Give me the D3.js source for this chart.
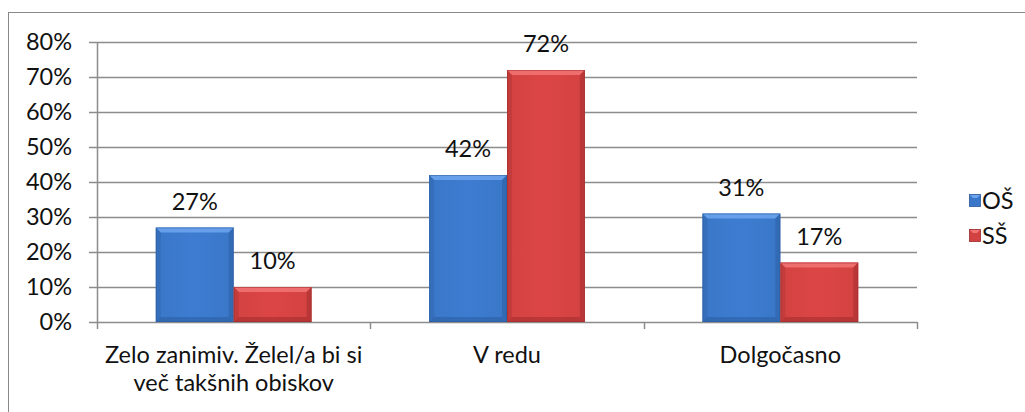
<!DOCTYPE html>
<html><head><meta charset="utf-8">
<script src="https://cdn.jsdelivr.net/npm/d3@7"></script>
<style>body{margin:0;background:#fff}svg{display:block}text{font-family:Lato,"Open Sans",sans-serif;font-weight:400;fill:#111}</style>
</head><body>
<svg id="c" width="1025" height="412"></svg>
<script>
const categories = [["Zelo zanimiv. Želel/a bi si","več takšnih obiskov"],["V redu"],["Dolgočasno"]];
const seriesNames = ["OŠ","SŠ"];
const osValues = [27,42,31];
const ssValues = [10,72,17];
const yTicks = [0,10,20,30,40,50,60,70,80];
const colors = {"OŠ":{base:"#3a77c8",light:"#6ea6ee",dark:"#2a5a9c"},"SŠ":{base:"#d34242",light:"#f27474",dark:"#9c2a2a"}};

(function(){
const fs = "23.5px";
const svg = d3.select("#c");
svg.append("rect").attr("x",8.5).attr("y",12.5).attr("width",1030).attr("height",410)
  .attr("fill","none").attr("stroke","#888").attr("stroke-width",1);

const pLeft=97, pRight=917, pTop=42, pBottom=322;
const y = d3.scaleLinear().domain([0,80]).range([pBottom,pTop]);
const x0 = d3.scaleBand().domain(d3.range(categories.length)).range([pLeft,pRight]).paddingInner(0.43).paddingOuter(0.215);
const x1 = d3.scaleBand().domain(seriesNames).range([0,x0.bandwidth()]);

svg.append("g").selectAll("line").data(yTicks).join("line")
  .attr("x1",pLeft-8).attr("x2",pRight).attr("y1",d=>Math.round(y(d))+0.5).attr("y2",d=>Math.round(y(d))+0.5)
  .attr("stroke","#8c8c8c").attr("stroke-width",1.5);
svg.append("line").attr("x1",pLeft+0.5).attr("x2",pLeft+0.5).attr("y1",pTop).attr("y2",pBottom).attr("stroke","#8c8c8c").attr("stroke-width",1.5);
svg.append("g").selectAll("text").data(yTicks).join("text")
  .attr("x",72).attr("y",d=>y(d)).attr("dy","0.36em").attr("text-anchor","end")
  .style("font-size",fs).text(d=>d+"%");
const catEdges = d3.range(categories.length+1).map(i=>pLeft+(pRight-pLeft)*i/categories.length);
svg.append("g").selectAll("line").data(catEdges).join("line")
  .attr("x1",d=>Math.round(d)+0.5).attr("x2",d=>Math.round(d)+0.5).attr("y1",pBottom).attr("y2",pBottom+7)
  .attr("stroke","#8c8c8c").attr("stroke-width",1.5);

const defs = svg.append("defs");
seriesNames.forEach((s,i)=>{
  const g = defs.append("linearGradient").attr("id","g"+i).attr("x1",0).attr("x2",1).attr("y1",0).attr("y2",0);
  g.append("stop").attr("offset","0%").attr("stop-color",colors[s].base);
  g.append("stop").attr("offset","50%").attr("stop-color",d3.color(colors[s].base).brighter(0.12));
  g.append("stop").attr("offset","100%").attr("stop-color",colors[s].base);
});

const data = [];
categories.forEach((c,i)=>{
  data.push({cat:i,s:"OŠ",si:0,v:osValues[i]});
  data.push({cat:i,s:"SŠ",si:1,v:ssValues[i]});
});
const bars = svg.append("g").selectAll("g").data(data).join("g");
const bv = 5;
bars.each(function(d){
  const g = d3.select(this);
  const x = x0(d.cat)+x1(d.s), w = x1.bandwidth(), yt = y(d.v), yb = y(0), h = yb-yt;
  const c = colors[d.s];
  g.append("rect").attr("x",x).attr("y",yt).attr("width",w).attr("height",h).attr("fill","url(#g"+d.si+")");
  const b = Math.min(bv,h/2);
  g.append("polygon").attr("points",[[x,yt],[x+w,yt],[x+w-b,yt+b],[x+b,yt+b]].join(" ")).attr("fill",c.light).attr("opacity",0.85);
  g.append("polygon").attr("points",[[x,yt],[x+b,yt+b],[x+b,yb-b],[x,yb]].join(" ")).attr("fill",c.dark).attr("opacity",0.3);
  g.append("polygon").attr("points",[[x+w,yt],[x+w-b,yt+b],[x+w-b,yb-b],[x+w,yb]].join(" ")).attr("fill",c.dark).attr("opacity",0.45);
  g.append("polygon").attr("points",[[x,yb],[x+b,yb-b],[x+w-b,yb-b],[x+w,yb]].join(" ")).attr("fill",c.dark).attr("opacity",0.5);
  g.append("rect").attr("x",x+0.5).attr("y",yt+0.5).attr("width",w-1).attr("height",h-1).attr("fill","none").attr("stroke",c.dark).attr("stroke-opacity",0.5);
  g.append("text").attr("x",x+w/2).attr("y",yt-26).attr("dy","0.36em").attr("text-anchor","middle")
    .style("font-size",fs).text(d.v+"%");
});

categories.forEach((lines,i)=>{
  const cx = (catEdges[i]+catEdges[i+1])/2;
  lines.forEach((t,j)=>{
    svg.append("text").attr("x",cx).attr("y",355+j*28).attr("dy","0.36em").attr("text-anchor","middle")
      .style("font-size",fs).text(t);
  });
});

seriesNames.forEach((s,i)=>{
  const ly = 201+i*35;
  const c = colors[s];
  svg.append("rect").attr("x",969.5).attr("y",ly-6.5).attr("width",11).attr("height",12).attr("fill",c.base).attr("stroke",c.dark).attr("stroke-width",0.8);
  svg.append("polygon").attr("points",[[970,ly-6],[980,ly-6],[977,ly-3],[973,ly-3]].join(" ")).attr("fill",c.light);
  svg.append("text").attr("x",982).attr("y",ly).attr("dy","0.36em").style("font-size",fs).text(s);
});
})();
</script>
</body></html>
